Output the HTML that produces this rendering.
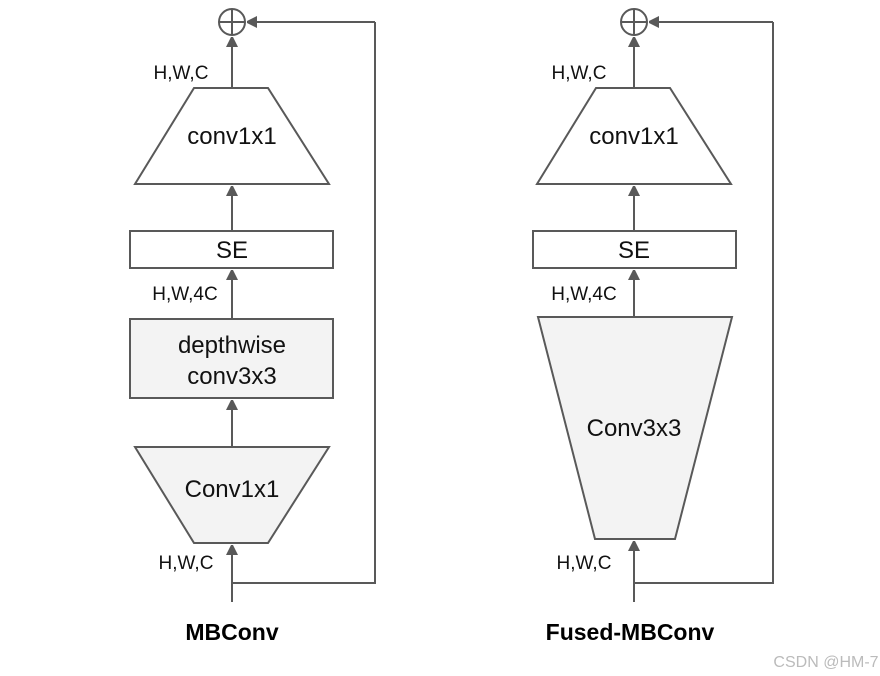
<!DOCTYPE html>
<html><head><style>html,body{margin:0;padding:0;background:#fff;}svg{display:block}</style></head>
<body>
<svg width="880" height="676" viewBox="0 0 880 676" xmlns="http://www.w3.org/2000/svg" font-family="Liberation Sans, Arial, sans-serif">
<defs>
<marker id="a" markerWidth="10" markerHeight="12" refX="10" refY="6" orient="auto" markerUnits="userSpaceOnUse">
<path d="M0,0 L12,6 L0,12 z" fill="#595959"/>
</marker>
</defs>
<g stroke="#595959" stroke-width="2" fill="none">
<circle cx="232" cy="22" r="13"/>
<line x1="219" y1="22" x2="245" y2="22"/><line x1="232" y1="9" x2="232" y2="35"/>
<line x1="232" y1="88" x2="232" y2="37" marker-end="url(#a)"/>
<polygon points="194,88 268,88 329,184 135,184"/>
<line x1="232" y1="231" x2="232" y2="186" marker-end="url(#a)"/>
<rect x="130" y="231" width="203" height="37"/>
<line x1="232" y1="319" x2="232" y2="270" marker-end="url(#a)"/>
<rect x="130" y="319" width="203" height="79" fill="#f3f3f3"/>
<line x1="232" y1="447" x2="232" y2="400" marker-end="url(#a)"/>
<polygon points="135,447 329,447 268,543 194,543" fill="#f3f3f3"/>
<line x1="232" y1="602" x2="232" y2="545" marker-end="url(#a)"/>
<polyline points="232,583 375,583 375,22"/>
<line x1="375" y1="22" x2="247" y2="22" marker-end="url(#a)"/>
<circle cx="634" cy="22" r="13"/>
<line x1="621" y1="22" x2="647" y2="22"/><line x1="634" y1="9" x2="634" y2="35"/>
<line x1="634" y1="88" x2="634" y2="37" marker-end="url(#a)"/>
<polygon points="596,88 670,88 731,184 537,184"/>
<line x1="634" y1="231" x2="634" y2="186" marker-end="url(#a)"/>
<rect x="533" y="231" width="203" height="37"/>
<line x1="634" y1="317" x2="634" y2="270" marker-end="url(#a)"/>
<polygon points="538,317 732,317 675,539 595,539" fill="#f3f3f3"/>
<line x1="634" y1="602" x2="634" y2="541" marker-end="url(#a)"/>
<polyline points="634,583 773,583 773,22"/>
<line x1="773" y1="22" x2="649" y2="22" marker-end="url(#a)"/>
</g>
<g fill="#111" font-size="24" text-anchor="middle">
<text x="232" y="144">conv1x1</text>
<text x="232" y="258">SE</text>
<text x="232" y="353">depthwise</text>
<text x="232" y="384">conv3x3</text>
<text x="232" y="497">Conv1x1</text>
<text x="634" y="144">conv1x1</text>
<text x="634" y="258">SE</text>
<text x="634" y="436">Conv3x3</text>
</g>
<g fill="#111" font-size="19" text-anchor="middle">
<text x="181" y="79">H,W,C</text>
<text x="185" y="300">H,W,4C</text>
<text x="186" y="569">H,W,C</text>
<text x="579" y="79">H,W,C</text>
<text x="584" y="300">H,W,4C</text>
<text x="584" y="569">H,W,C</text>
</g>
<g fill="#000" font-size="23" font-weight="bold" text-anchor="middle">
<text x="232" y="640">MBConv</text>
<text x="630" y="640">Fused-MBConv</text>
</g>
<text x="826" y="667" fill="#bbb" font-size="16" text-anchor="middle">CSDN @HM-7</text>
</svg>
</body></html>
